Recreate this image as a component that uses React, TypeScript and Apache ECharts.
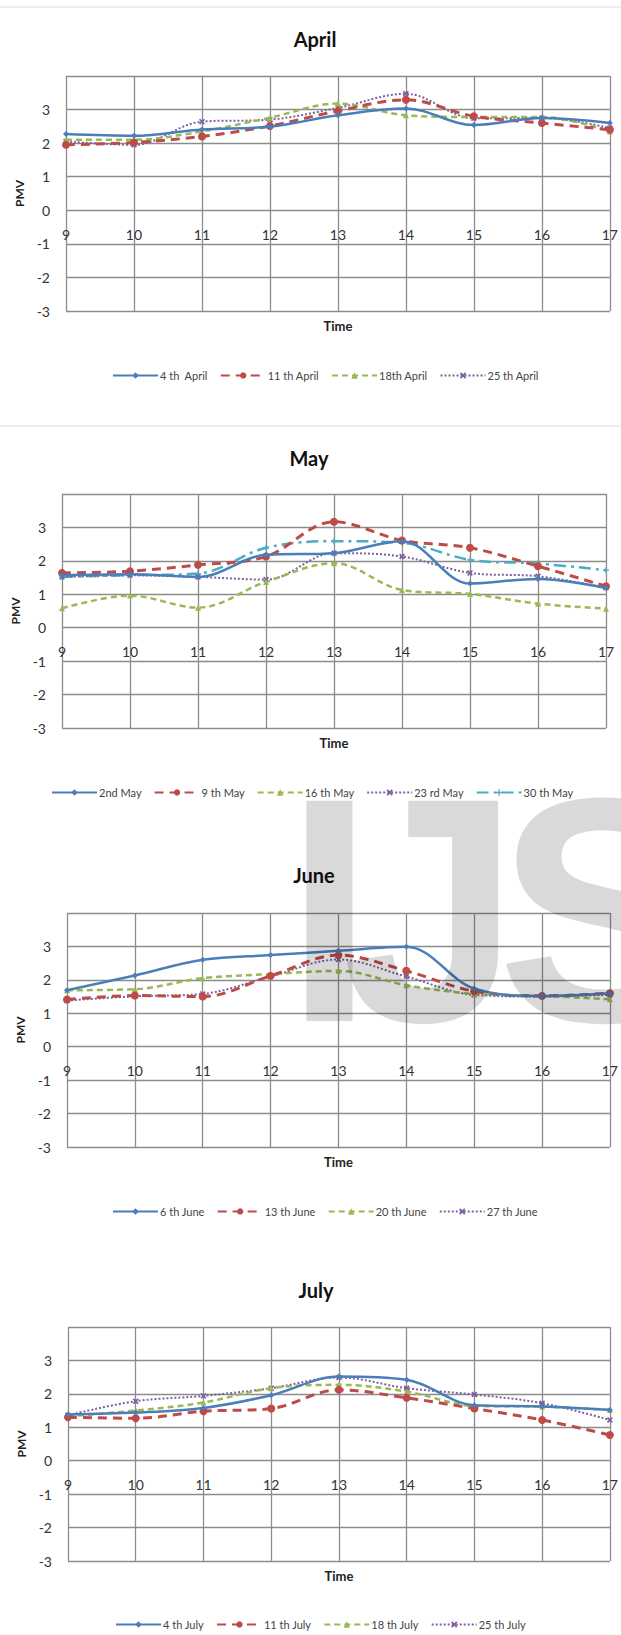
import React, { useEffect, useRef } from "react";
import * as echarts from "echarts";

// ---------- data ----------
const HOURS = ["9", "10", "11", "12", "13", "14", "15", "16", "17"];

const APRIL_NAMES = ["4 th  April", "11 th April", "18th April", "25 th April"];
const APRIL_4 = [2.27, 2.22, 2.41, 2.49, 2.83, 3.03, 2.54, 2.75, 2.6];
const APRIL_11 = [1.95, 2.02, 2.2, 2.51, 2.96, 3.29, 2.8, 2.6, 2.4];
const APRIL_18 = [2.1, 2.1, 2.35, 2.76, 3.18, 2.83, 2.78, 2.78, 2.35];
const APRIL_25 = [2.05, 1.95, 2.64, 2.7, 3.05, 3.47, 2.74, 2.75, 2.45];

const MAY_NAMES = ["2nd May", "9 th May", "16 th May", "23 rd May", "30 th May"];
const MAY_2 = [1.57, 1.6, 1.52, 2.18, 2.23, 2.59, 1.32, 1.46, 1.19];
const MAY_9 = [1.64, 1.69, 1.88, 2.13, 3.17, 2.61, 2.39, 1.84, 1.24];
const MAY_16 = [0.58, 0.96, 0.6, 1.37, 1.93, 1.13, 1.01, 0.72, 0.57];
const MAY_23 = [1.52, 1.57, 1.52, 1.44, 2.23, 2.13, 1.64, 1.54, 1.2];
const MAY_30 = [1.52, 1.57, 1.62, 2.39, 2.59, 2.54, 2.03, 1.92, 1.72];

const JUNE_NAMES = ["6 th June", "13 th June", "20 th June", "27 th June"];
const JUNE_6 = [1.69, 2.13, 2.6, 2.74, 2.87, 2.99, 1.74, 1.52, 1.6];
const JUNE_13 = [1.41, 1.53, 1.5, 2.12, 2.74, 2.27, 1.66, 1.52, 1.6];
const JUNE_20 = [1.69, 1.72, 2.05, 2.17, 2.27, 1.84, 1.58, 1.52, 1.42];
const JUNE_27 = [1.38, 1.51, 1.58, 2.1, 2.61, 2.1, 1.55, 1.5, 1.55];

const JULY_NAMES = ["4 th July", "11 th July", "18 th July", "25 th July"];
const JULY_4 = [1.38, 1.44, 1.58, 1.96, 2.52, 2.42, 1.66, 1.62, 1.52];
const JULY_11 = [1.3, 1.27, 1.48, 1.56, 2.12, 1.88, 1.56, 1.22, 0.77];
const JULY_18 = [1.33, 1.5, 1.74, 2.17, 2.27, 2.07, 1.64, 1.62, 1.52];
const JULY_25 = [1.36, 1.78, 1.94, 2.17, 2.49, 2.17, 1.98, 1.72, 1.22];

const MONTH_TITLES = ["April", "May", "June", "July"];
const Y_MIN = -3;
const Y_MAX = 4;

// ---------- styles / layout ----------
const FONT = "Lato, 'Liberation Sans', sans-serif";
const GRIDS = [
  { left: 66, top: 76, width: 545, height: 235 },
  { left: 62, top: 494, width: 544, height: 234 },
  { left: 67, top: 913, width: 544, height: 234 },
  { left: 68, top: 1327, width: 546, height: 234 },
];
const TITLE_POS = [
  [315, 39],
  [309, 458],
  [314, 875],
  [316, 1290],
];
const LEGEND_POS = [
  [112, 370],
  [51, 787],
  [112, 1206],
  [115, 1619],
];
const LABEL_BELOW_ZERO = 17;

const X_MARK = "path://M0,2L2,0L5,3L8,0L10,2L7,5L10,8L8,10L5,7L2,10L0,8L3,5Z";
const PLUS_MARK = "path://M4,0L6,0L6,4L10,4L10,6L6,6L6,10L4,10L4,6L0,6L0,4L4,4Z";

const STYLES = [
  { color: "#4a7ebb", type: "solid", width: 2.5, symbol: "diamond", size: 6 },
  { color: "#be4b48", type: [9, 6], width: 3, symbol: "circle", size: 8 },
  { color: "#98b954", type: [6, 4], width: 2.5, symbol: "triangle", size: 6 },
  { color: "#7d60a0", type: [2, 2], width: 2, symbol: X_MARK, size: 6 },
  { color: "#4bacc6", type: [12, 5, 3, 5], width: 2.5, symbol: PLUS_MARK, size: 6 },
];

const MONTHS = [
  { names: APRIL_NAMES, series: [APRIL_4, APRIL_11, APRIL_18, APRIL_25] },
  { names: MAY_NAMES, series: [MAY_2, MAY_9, MAY_16, MAY_23, MAY_30] },
  { names: JUNE_NAMES, series: [JUNE_6, JUNE_13, JUNE_20, JUNE_27] },
  { names: JULY_NAMES, series: [JULY_4, JULY_11, JULY_18, JULY_25] },
];

function buildOption() {
  const grid: any[] = [];
  const xAxis: any[] = [];
  const yAxis: any[] = [];
  const series: any[] = [];
  const legend: any[] = [];
  const gridLine = { color: "#8c8c8c", width: 1.3 };

  MONTHS.forEach((m, i) => {
    const g = GRIDS[i];
    grid.push({ ...g, containLabel: false });
    // labels sit just below the zero line (axis crosses at 0)
    const belowZero = (g.height * (0 - Y_MIN)) / (Y_MAX - Y_MIN);
    xAxis.push({
      type: "category",
      gridIndex: i,
      position: "bottom",
      data: HOURS,
      boundaryGap: false,
      axisLine: { show: false, onZero: false },
      axisTick: { show: false },
      axisLabel: {
        interval: 0,
        margin: LABEL_BELOW_ZERO - belowZero,
        fontSize: 14,
        color: "#333",
        fontFamily: FONT,
      },
      splitLine: { show: true, interval: 0, lineStyle: gridLine },
      name: "Time",
      nameLocation: "middle",
      nameGap: 8,
      nameTextStyle: { fontSize: 13, fontWeight: "bold", color: "#222", fontFamily: FONT },
    });
    yAxis.push({
      type: "value",
      gridIndex: i,
      min: Y_MIN,
      max: Y_MAX,
      interval: 1,
      axisLine: { show: false },
      axisTick: { show: false },
      axisLabel: {
        margin: 16,
        fontSize: 14,
        color: "#333",
        fontFamily: FONT,
        formatter: (v: number) => (v === Y_MAX ? "" : String(v)),
      },
      splitLine: { show: true, lineStyle: gridLine },
      name: "PMV",
      nameLocation: "middle",
      nameGap: 38,
      nameTextStyle: { fontSize: 12, fontWeight: "bold", color: "#222", fontFamily: FONT },
    });
    m.series.forEach((data, k) => {
      const st = STYLES[k];
      series.push({
        type: "line",
        name: m.names[k],
        xAxisIndex: i,
        yAxisIndex: i,
        data,
        smooth: 0.35,
        symbol: st.symbol,
        symbolSize: st.size,
        showSymbol: true,
        itemStyle: { color: st.color },
        lineStyle: { color: st.color, width: st.width, type: st.type },
        z: 10 - k,
      });
    });
    legend.push({
      data: m.names,
      left: LEGEND_POS[i][0],
      top: LEGEND_POS[i][1],
      orient: "horizontal",
      itemWidth: 45,
      itemHeight: 8,
      itemGap: 12,
      padding: 0,
      selectedMode: false,
      textStyle: { fontSize: 11, color: "#444", fontFamily: FONT, padding: [0, 0, 0, -3] },
    });
  });

  const graphicEls: any[] = [
    { type: "line", shape: { x1: 0, y1: 7, x2: 621, y2: 7 }, style: { stroke: "#dcdcdc", lineWidth: 1 } },
    { type: "line", shape: { x1: 0, y1: 426, x2: 621, y2: 426 }, style: { stroke: "#dcdcdc", lineWidth: 1 } },
  ];
  MONTH_TITLES.forEach((t, i) => {
    graphicEls.push({
      type: "text",
      x: TITLE_POS[i][0],
      y: TITLE_POS[i][1],
      style: {
        text: t,
        font: `bold 20px ${FONT}`,
        fill: "#111",
        align: "center",
        verticalAlign: "middle",
        textAlign: "center",
        textVerticalAlign: "middle",
      },
    });
  });
  // faint watermark letters
  const WM = [
    ["I", 285],
    ["J", 342],
    ["S", 497],
  ];
  WM.forEach(([ch, x]) => {
    graphicEls.push({
      type: "text",
      x: x as number,
      y: 1070,
      z: 100,
      silent: true,
      style: {
        text: ch,
        font: "bold 320px 'Liberation Sans', sans-serif",
        fill: "rgba(0,0,0,0.15)",
        align: "left",
        verticalAlign: "bottom",
        textAlign: "left",
        textVerticalAlign: "bottom",
      },
    });
  });

  return {
    animation: false,
    backgroundColor: "#ffffff",
    grid,
    xAxis,
    yAxis,
    series,
    legend,
    graphic: { elements: graphicEls },
  };
}

export default function App() {
  const ref = useRef<HTMLDivElement>(null);
  useEffect(() => {
    if (!ref.current) return;
    const chart = echarts.init(ref.current, null, { renderer: "svg" });
    chart.setOption(buildOption() as any);
    return () => chart.dispose();
  }, []);
  return (
    <div
      ref={ref}
      style={{ position: "absolute", left: 0, top: 0, width: 621, height: 1635 }}
    />
  );
}
